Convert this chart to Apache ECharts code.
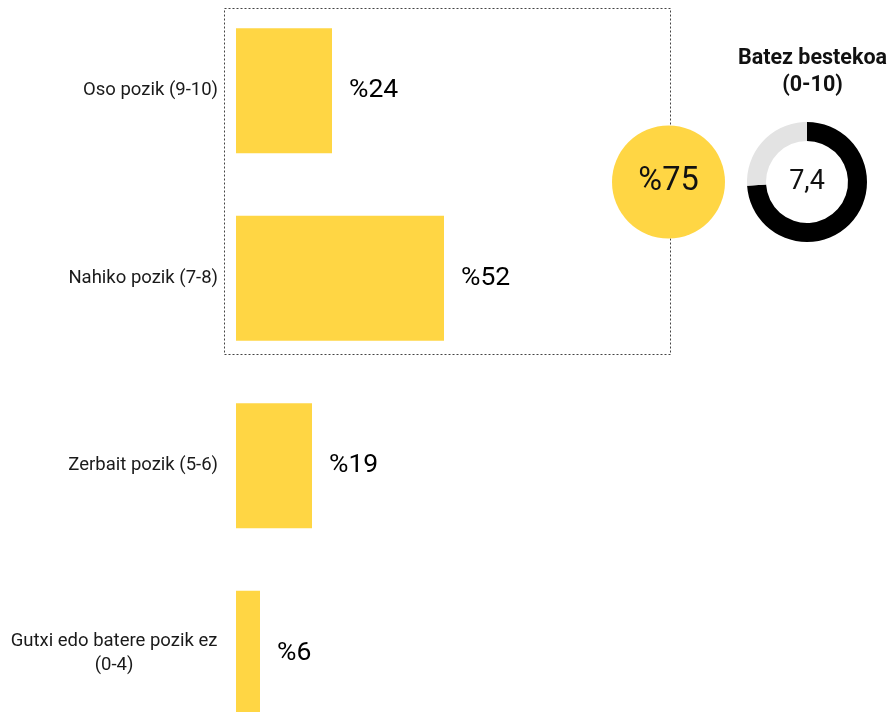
<!DOCTYPE html>
<html>
<head>
<meta charset="utf-8">
<script src="https://cdn.jsdelivr.net/npm/echarts@6/dist/echarts.min.js"></script>
<style>html,body{margin:0;padding:0;background:#fff;}#c{width:890px;height:712px;}</style>
</head>
<body>
<div id="c"></div>
<script>
const categories = ['Oso pozik (9-10)', 'Nahiko pozik (7-8)', 'Zerbait pozik (5-6)', 'Gutxi edo batere pozik ez\n(0-4)'];
const values = [24, 52, 19, 6];
const satisfiedTotal = 75;
const averageScore = 7.4;
const averageMax = 10;
const averageTitle = 'Batez bestekoa\n(0-10)';

const YELLOW = '#FFD644';
const FONT = 'Roboto';
const chart = echarts.init(document.getElementById('c'), null, {renderer: 'canvas'});

chart.setOption({
  animation: false,
  backgroundColor: '#fff',
  textStyle: {fontFamily: FONT},
  grid: {left: 236, right: 254, top: -3, height: 750, containLabel: false, outerBoundsMode: 'none'},
  xAxis: {type: 'value', min: 0, max: 100, show: false},
  yAxis: {
    type: 'category', inverse: true, data: categories,
    axisLine: {show: false}, axisTick: {show: false},
    axisLabel: {
      margin: 18, color: '#1a1a1a', fontSize: 18.5, fontFamily: FONT, lineHeight: 24,
      formatter: v => v.indexOf('\n') >= 0 ? v.split('\n').map(l => '{c|' + l + '}').join('\n') : v,
      rich: {c: {align: 'center', width: 208, fontSize: 18.5, fontFamily: FONT, color: '#1a1a1a', lineHeight: 24}}
    }
  },
  series: [
    {
      type: 'bar', data: values, barWidth: 125, z: 3,
      itemStyle: {color: YELLOW},
      label: {show: true, position: 'right', distance: 17, formatter: p => '%' + p.value,
        fontSize: 26.5, fontWeight: 'normal', color: '#000', fontFamily: FONT}
    },
    {
      type: 'pie', center: [668.5, 182], radius: [0, 56.5], silent: true, z: 3,
      data: [{value: satisfiedTotal, name: 'total'}],
      itemStyle: {color: YELLOW},
      label: {show: true, position: 'center', formatter: p => '%' + p.value,
        fontSize: 32.5, fontWeight: 400, color: '#111', fontFamily: FONT},
      labelLine: {show: false}
    },
    {
      type: 'pie', center: [807, 182], radius: [41, 60], silent: true, z: 3,
      startAngle: 90, clockwise: true,
      data: [
        {value: averageScore, name: 'avg', itemStyle: {color: '#000'}},
        {value: averageMax - averageScore, name: 'rest', itemStyle: {color: '#E3E3E3'}}
      ],
      label: {show: false},
      labelLine: {show: false}
    }
  ],
  graphic: [
    {type: 'rect', z: 0, zlevel: 0, shape: {x: 224.5, y: 8.5, width: 446, height: 346},
      style: {fill: 'none', stroke: '#444', lineWidth: 1, lineDash: [2, 2]}},
    {type: 'text', x: 812.5, y: 45, z: 20,
      style: {text: averageTitle, textAlign: 'center', fill: '#111', font: 'bold 21.5px Roboto', lineHeight: 27}},
    {type: 'text', x: 807, y: 182, z: 20,
      style: {text: String(averageScore).replace('.', ','), textAlign: 'center', textVerticalAlign: 'middle', fill: '#111', font: '27px Roboto'}}
  ]
});
</script>
</body>
</html>
